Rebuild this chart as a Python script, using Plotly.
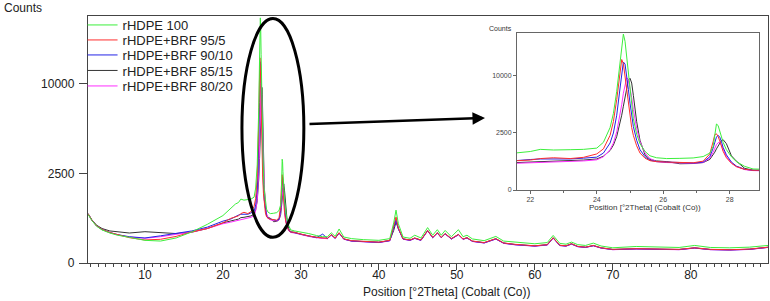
import numpy as np
import plotly.graph_objects as go

# 2theta grid (degrees, Cobalt)
theta = (
    [2.7, 3.2, 3.8, 4.5, 5.5, 6.5, 8, 10, 12, 14, 16, 18, 20]
    + [21, 21.6, 22, 22.3, 22.7, 23.2, 23.6, 24.0]
    + [24.2, 24.4, 24.5, 24.6, 24.7, 24.75, 24.8, 24.85, 24.9, 24.95, 25.0, 25.05, 25.1, 25.2, 25.3, 25.45, 25.6, 25.8, 26.1]
    + [26.5, 26.9, 27.2, 27.4, 27.5, 27.55, 27.6, 27.65, 27.7, 27.75, 27.8, 27.9, 28.05, 28.2, 28.45, 28.7]
    + [29.2, 30, 31, 32, 32.8, 33.4, 33.9, 34.4, 34.9, 35.5, 36.5, 38, 40, 41.4, 41.9, 42.2, 42.5, 43.1, 44, 44.6,
       45.4, 46.25, 46.9, 47.5, 48.0, 48.5, 49.3, 50.2, 50.8, 51.3, 52, 53.5, 55, 56, 57.5, 60, 61.6, 62.35, 63.2, 64,
       64.7, 65.5, 66.5, 67.5, 68.5, 70, 73, 76, 78.5, 80.5, 82.5, 85, 87.5, 89.9]
)

rhdpe_100 = (
    [740, 560, 420, 340, 280, 240, 205, 160, 150, 195, 300, 465, 700]
    + [950, 1080, 1140, 1270, 1230, 1250, 1270, 1350]
    + [1750, 3000, 4500, 7500, 13000, 16500, 18700, 17000, 13500, 10000, 7200, 5200, 3900, 2400, 1650, 1150, 900, 800, 760]
    + [770, 790, 860, 1050, 1450, 2300, 3350, 3200, 2600, 2100, 1750, 1250, 850, 620, 430, 340]
    + [320, 300, 270, 235, 215, 215, 285, 220, 360, 210, 185, 170, 160, 185, 500, 870, 480, 210, 190, 240,
       195, 390, 240, 345, 240, 330, 215, 345, 215, 240, 180, 155, 220, 150, 135, 115, 130, 237, 120, 110,
       136, 105, 96, 123, 90, 72, 85, 78, 75, 96, 75, 72, 78, 96]
)

brf_95_5 = (
    [760, 570, 430, 350, 290, 250, 200, 165, 175, 220, 300, 370, 500]
    + [620, 660, 690, 760, 800, 760, 820, 1000]
    + [1300, 2300, 3600, 6300, 11000, 13100, 12300, 10000, 7600, 5600, 4100, 3000, 2300, 1500, 1050, 780, 660, 620, 600]
    + [580, 570, 640, 1000, 1800, 2350, 2430, 2200, 1850, 1450, 1150, 800, 550, 420, 330, 300]
    + [290, 258, 228, 205, 195, 190, 250, 195, 285, 182, 155, 146, 135, 160, 420, 660, 380, 182, 165, 195,
       165, 330, 205, 285, 205, 270, 185, 255, 180, 200, 150, 130, 185, 125, 108, 92, 105, 200, 98, 92,
       116, 86, 78, 96, 72, 58, 64, 60, 58, 72, 58, 55, 60, 78]
)

brf_90_10 = (
    [760, 570, 430, 350, 290, 250, 215, 195, 230, 275, 320, 400, 545]
    + [600, 680, 715, 740, 730, 740, 780, 830]
    + [1050, 1700, 2500, 4300, 8000, 10800, 12600, 12200, 10200, 7800, 5800, 4200, 3100, 1900, 1250, 850, 680, 620, 600]
    + [580, 560, 600, 850, 1350, 1750, 2150, 2300, 2150, 1800, 1400, 950, 600, 440, 330, 300]
    + [285, 252, 222, 200, 260, 186, 245, 190, 280, 178, 150, 142, 132, 155, 370, 570, 360, 178, 160, 190,
       160, 325, 200, 280, 200, 265, 180, 250, 176, 196, 146, 126, 180, 122, 104, 90, 102, 195, 95, 90,
       112, 84, 76, 93, 70, 56, 62, 58, 56, 70, 56, 53, 58, 76]
)

brf_85_15 = (
    [760, 580, 445, 370, 320, 300, 280, 305, 285, 270, 295, 370, 500]
    + [560, 580, 600, 640, 650, 660, 690, 740]
    + [880, 1200, 1550, 2200, 3400, 4300, 5400, 6800, 8200, 9300, 9600, 8800, 6900, 3600, 1900, 950, 720, 650, 620]
    + [530, 540, 580, 720, 950, 1100, 1300, 1500, 1700, 1880, 1950, 1650, 900, 640, 360, 300]
    + [295, 256, 226, 204, 192, 188, 248, 192, 282, 180, 152, 144, 134, 158, 330, 520, 370, 180, 164, 192,
       163, 326, 202, 282, 202, 266, 183, 252, 178, 198, 148, 128, 182, 124, 106, 91, 104, 197, 97, 91,
       114, 85, 77, 95, 71, 57, 63, 59, 57, 71, 57, 54, 59, 77]
)

brf_80_20 = (
    [750, 560, 425, 345, 285, 245, 210, 190, 215, 255, 300, 370, 480]
    + [520, 550, 565, 590, 600, 620, 650, 700]
    + [850, 1250, 1700, 2600, 4300, 5600, 7200, 8700, 9700, 9400, 8200, 6600, 5000, 2900, 1800, 1050, 760, 620, 580]
    + [560, 550, 580, 780, 1100, 1350, 1580, 1720, 1740, 1550, 1250, 850, 560, 420, 320, 290]
    + [280, 250, 220, 198, 188, 184, 242, 188, 278, 176, 148, 140, 130, 152, 400, 610, 370, 176, 158, 188,
       158, 322, 198, 278, 198, 262, 178, 248, 174, 194, 144, 124, 178, 120, 102, 88, 100, 192, 94, 88,
       110, 82, 75, 92, 69, 55, 61, 57, 55, 69, 55, 52, 57, 75]
)

series_names = ["rHDPE 100", "rHDPE+BRF 95/5", "rHDPE+BRF 90/10", "rHDPE+BRF 85/15", "rHDPE+BRF 80/20"]
series_values = [rhdpe_100, brf_95_5, brf_90_10, brf_85_15, brf_80_20]
series_colors = ["#3cef3c", "#ff2e2e", "#2424e6", "#333333", "#ff2eff"]

y_tick_counts = [0, 2500, 10000]
main_x_ticks = [10, 20, 30, 40, 50, 60, 70, 80]
inset_x_ticks = [22, 24, 26, 28]

for v in series_values:
    assert len(v) == len(theta), (len(v), len(theta))

FONT = "Liberation Sans, Arial, sans-serif"

fig = go.Figure()

draw_order = [3, 4, 2, 1, 0]
legend_ids = ["legend", "legend2", "legend3", "legend4", "legend5"]
for i in draw_order:
    y = np.sqrt(np.array(series_values[i], dtype=float))  # square-root intensity scale
    fig.add_trace(go.Scatter(
        x=theta, y=y, mode="lines", name=series_names[i],
        line=dict(color=series_colors[i], width=1),
        xaxis="x", yaxis="y", legend=legend_ids[i], showlegend=True,
    ))
for i in draw_order:
    y = np.sqrt(np.array(series_values[i], dtype=float))
    fig.add_trace(go.Scatter(
        x=theta, y=y, mode="lines", name=series_names[i],
        line=dict(color=series_colors[i], width=1),
        xaxis="x2", yaxis="y2", showlegend=False,
    ))

tickvals = list(np.sqrt(y_tick_counts))
ticktext = [str(t) for t in y_tick_counts]

H_PLOT = 247.0
BOTTOM = 263.0
def py(p):
    return (BOTTOM - p) / H_PLOT
def px(p):
    return (p - 88) / 680.0

axis_common = dict(showgrid=False, zeroline=False, showline=True, mirror=True,
                   linecolor="#444444", linewidth=1.3, ticks="outside", tickcolor="#444444")

legend_rows = [25, 40, 55, 70.5, 86]
legends = {}
for k, lid in enumerate(legend_ids):
    legends[lid] = dict(x=-0.008, xanchor="left", y=py(legend_rows[k]), yanchor="middle",
                        bgcolor="rgba(0,0,0,0)", borderwidth=0,
                        font=dict(family=FONT, size=13, color="#222222"))

fig.update_layout(
    width=770, height=301,
    margin=dict(l=88, r=2, t=16, b=38),
    plot_bgcolor="white", paper_bgcolor="white",
    font=dict(family=FONT, color="#222222"),
    xaxis=dict(range=[2.7, 89.9], tickvals=main_x_ticks, ticklen=6, ticklabelstandoff=-6,
               minor=dict(ticks="outside", dtick=1, tick0=0, ticklen=3, tickcolor="#444444"),
               tickfont=dict(size=12, color="#222222"), **axis_common),
    yaxis=dict(range=[0, 137.8], tickvals=tickvals, ticktext=ticktext, ticklen=8, ticklabelstandoff=2,
               tickfont=dict(size=12, color="#222222"), **axis_common),
    xaxis2=dict(domain=[px(517), px(759)], anchor="y2", range=[21.6, 28.88],
                tickvals=inset_x_ticks, ticklen=3,
                minor=dict(ticks="outside", dtick=1, tick0=0, ticklen=2, tickcolor="#666666"),
                tickfont=dict(size=7, color="#444444"),
                showgrid=False, zeroline=False, showline=True, mirror=True,
                linecolor="#666666", linewidth=1, ticks="outside", tickcolor="#666666"),
    yaxis2=dict(domain=[py(190), py(33)], anchor="x2", range=[0, 137.7],
                tickvals=tickvals, ticktext=ticktext, ticklen=3,
                tickfont=dict(size=7, color="#444444"),
                showgrid=False, zeroline=False, showline=True, mirror=True,
                linecolor="#666666", linewidth=1, ticks="outside", tickcolor="#666666"),
    **legends,
)

fig.add_shape(type="circle", xref="x", yref="y", x0=22.44, x1=30.38, y0=14.3, y1=136.4,
              line=dict(color="black", width=3))

fig.add_annotation(xref="paper", yref="paper", x=px(485), y=py(118), ax=-177, ay=6,
                   axref="pixel", ayref="pixel", text="", showarrow=True,
                   arrowhead=2, arrowsize=1, arrowwidth=2.5, arrowcolor="black")

fig.add_annotation(xref="paper", yref="paper", x=px(2), y=py(8), xanchor="left", yanchor="middle",
                   text="Counts", showarrow=False, font=dict(family=FONT, size=12, color="#222222"))
fig.add_annotation(xref="paper", yref="paper", x=px(447), y=py(292), xanchor="center", yanchor="middle",
                   text="Position [°2Theta] (Cobalt (Co))", showarrow=False,
                   font=dict(family=FONT, size=12, color="#222222"))
fig.add_annotation(xref="paper", yref="paper", x=px(487), y=py(28), xanchor="left", yanchor="middle",
                   text="Counts", showarrow=False, font=dict(family=FONT, size=7, color="#333333"))
fig.add_annotation(xref="paper", yref="paper", x=px(645), y=py(207), xanchor="center", yanchor="middle",
                   text="Position [°2Theta] (Cobalt (Co))", showarrow=False,
                   font=dict(family=FONT, size=8, color="#333333"))

fig.write_html("out.html", config={"displayModeBar": False},
               post_script="document.body.style.margin='0';document.body.style.overflow='hidden';")
